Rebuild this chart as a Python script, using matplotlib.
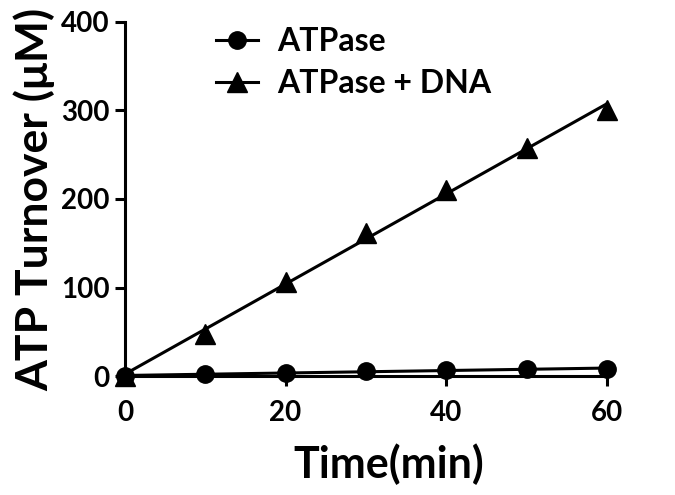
import matplotlib
matplotlib.use("Agg")
import matplotlib.pyplot as plt
import numpy as np

plt.rcParams["font.family"] = ["Lato", "DejaVu Sans"]
plt.rcParams["font.weight"] = "bold"

time_min   = [0, 10, 20, 30, 40, 50, 60]
atpase     = [0, 2, 4, 6, 7, 8, 8]
atpase_dna = [0, 48, 106, 162, 210, 258, 300]

# linear fits drawn through the points
fit_x = np.array([0, 60])
k1 = np.polyfit(time_min, atpase, 1)
k2 = np.polyfit(time_min, atpase_dna, 1)

fig = plt.figure(figsize=(6.75, 4.95), dpi=100, facecolor="white")
ax = fig.add_axes([0.185, 0.240, 0.714, 0.716])

ax.plot(fit_x, np.polyval(k1, fit_x), color="black", lw=2.2, zorder=2)
ax.plot(fit_x, np.polyval(k2, fit_x), color="black", lw=2.2, zorder=2)
ax.plot(time_min, atpase, "o", color="black", ms=12.5, clip_on=False, zorder=3)
ax.plot(time_min, atpase_dna, "^", color="black", ms=14, clip_on=False, zorder=3)

# legend handles
ax.plot([], [], "-o", color="black", lw=2.2, ms=12.5, label="ATPase")
ax.plot([], [], "-^", color="black", lw=2.2, ms=14, label="ATPase + DNA")
ax.legend(loc="upper left", bbox_to_anchor=(0.13, 1.065), frameon=False,
          handlelength=1.3, handletextpad=0.6, labelspacing=0.4,
          prop={"weight": "bold", "size": 23})

ax.set_xlim(0, 60); ax.set_ylim(0, 400)
ax.set_xticks([0, 20, 40, 60]); ax.set_yticks([0, 100, 200, 300, 400])
ax.spines[["top", "right"]].set_visible(False)
for s in ("left", "bottom"):
    ax.spines[s].set_linewidth(2.2)
ax.tick_params(width=2.2, length=7, labelsize=20, direction="out")
ax.tick_params(axis="x", pad=10)
ax.tick_params(axis="y", pad=4)
for lab in ax.get_xticklabels() + ax.get_yticklabels():
    lab.set_fontweight("bold")

ax.set_xlabel("Time(min)", fontsize=31, fontweight="bold")
ax.xaxis.set_label_coords(0.547, -0.19)
ax.set_ylabel("ATP Turnover (\u03bcM)", fontsize=32, fontweight="bold", labelpad=4)

fig.savefig("out.png", dpi=100, facecolor="white")
